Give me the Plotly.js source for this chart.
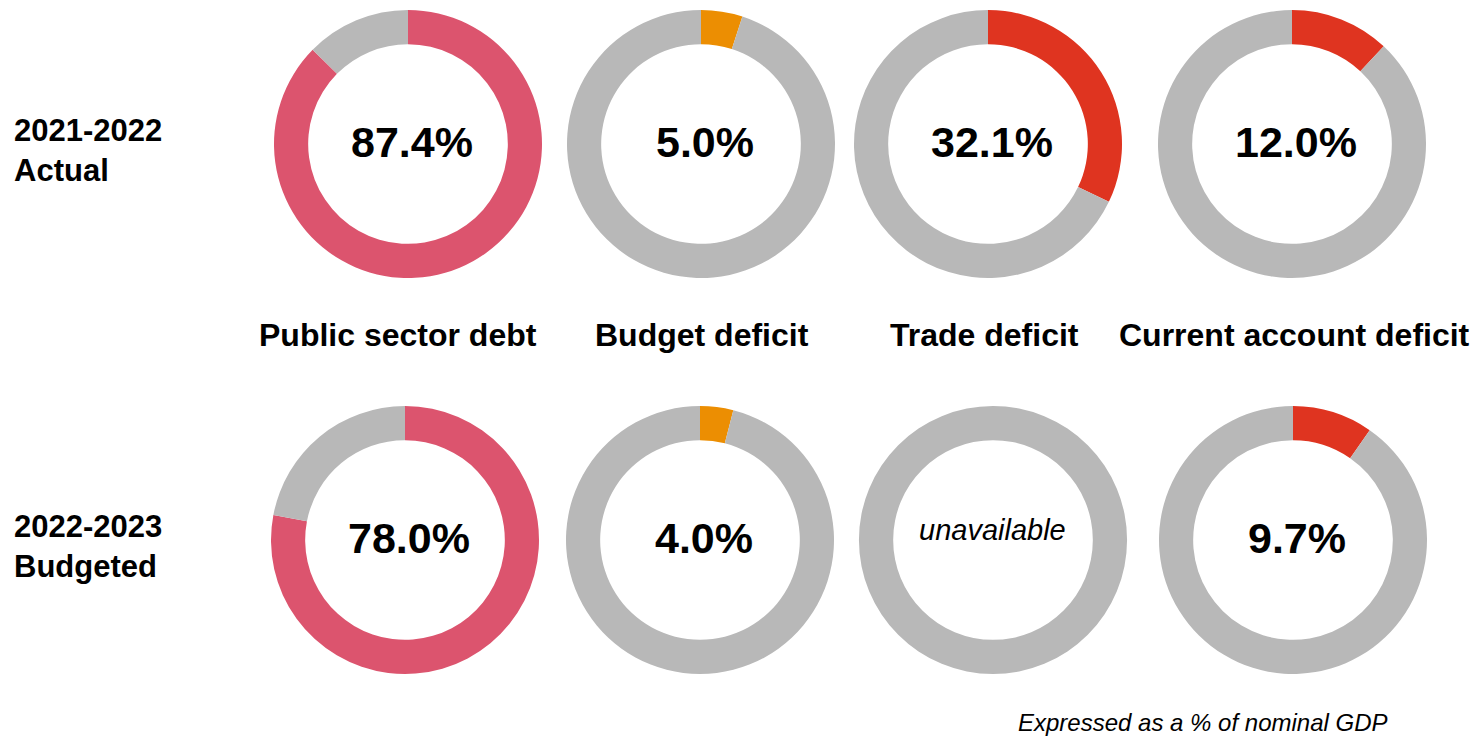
<!DOCTYPE html>
<html>
<head>
<meta charset="utf-8">
<script src="https://cdn.plot.ly/plotly-3.0.1.min.js"></script>
<style>html,body{margin:0;padding:0;background:#fff;}#chart{width:1478px;height:741px;}</style>
</head>
<body>
<div id="chart"></div>
<script>
// ---- data ----
const categories = ["Public sector debt", "Budget deficit", "Trade deficit", "Current account deficit"];
const rowLabels = ["2021-2022<br>Actual", "2022-2023<br>Budgeted"];
const actualValues = [87.4, 5.0, 32.1, 12.0];
const budgetedValues = [78.0, 4.0, null, 9.7];
const categoryColors = ["#DC546E", "#EC8E02", "#DF3420", "#DF3420"];
const restColor = "#B8B8B8";
const footnote = "Expressed as a % of nominal GDP";
const unavailableText = "unavailable";

// ---- layout geometry (pixels) ----
const W = 1478, H = 741;
const R = 134;
const centersX = [[408, 701, 988, 1292], [405, 700, 993, 1293]];
const centersY = [144, 540];

const rows = [actualValues, budgetedValues];
const traces = [];
const annotations = [];

rows.forEach((vals, r) => {
  vals.forEach((v, c) => {
    const cx = centersX[r][c], cy = centersY[r];
    const has = v !== null && v !== undefined;
    traces.push({
      type: "pie",
      values: has ? [v, 100 - v] : [0, 100],
      labels: ["value", "rest"],
      marker: { colors: [categoryColors[c], restColor], line: { width: 0 } },
      hole: 0.745,
      sort: false,
      direction: "clockwise",
      rotation: 0,
      textinfo: "none",
      hoverinfo: "skip",
      showlegend: false,
      domain: { x: [(cx - R) / W, (cx + R) / W], y: [1 - (cy + R) / H, 1 - (cy - R) / H] }
    });
    annotations.push({
      xref: "paper", yref: "paper",
      x: (has ? cx + 4 : cx - 1) / W, y: 1 - (has ? cy - 2 : cy - 10) / H,
      xanchor: "center", yanchor: "middle",
      text: has ? (v.toFixed(1) + "%") : "<i>" + unavailableText + "</i>",
      showarrow: false,
      font: has ? { family: "Liberation Sans, Arial, sans-serif", size: 43, color: "#000", weight: 700 }
                : { family: "Liberation Sans, Arial, sans-serif", size: 29, color: "#000" }
    });
  });
});

// category labels between rows
const catLabelX = [398, 702, 985, 1294];
categories.forEach((name, c) => {
  annotations.push({
    xref: "paper", yref: "paper", x: catLabelX[c] / W, y: 1 - 335 / H,
    xanchor: "center", yanchor: "middle", showarrow: false,
    text: "<b>" + name + "</b>",
    font: { family: "Liberation Sans, Arial, sans-serif", size: 32, color: "#000" }
  });
});

// row labels
const rowLabelY = [150, 546];
rowLabels.forEach((t, r) => {
  annotations.push({
    xref: "paper", yref: "paper", x: 12 / W, y: 1 - rowLabelY[r] / H,
    xanchor: "left", yanchor: "middle", align: "left", showarrow: false,
    text: "<b>" + t + "</b>",
    font: { family: "Liberation Sans, Arial, sans-serif", size: 31, color: "#000" }
  });
});

// footnote
annotations.push({
  xref: "paper", yref: "paper", x: 1203 / W, y: 1 - 722 / H,
  xanchor: "center", yanchor: "middle", showarrow: false,
  text: "<i>" + footnote + "</i>",
  font: { family: "Liberation Sans, Arial, sans-serif", size: 24, color: "#000" }
});

Plotly.newPlot("chart", traces, {
  width: W, height: H,
  margin: { l: 0, r: 0, t: 0, b: 0 },
  paper_bgcolor: "#fff", plot_bgcolor: "#fff",
  annotations: annotations
}, { displayModeBar: false, staticPlot: true });
</script>
</body>
</html>
